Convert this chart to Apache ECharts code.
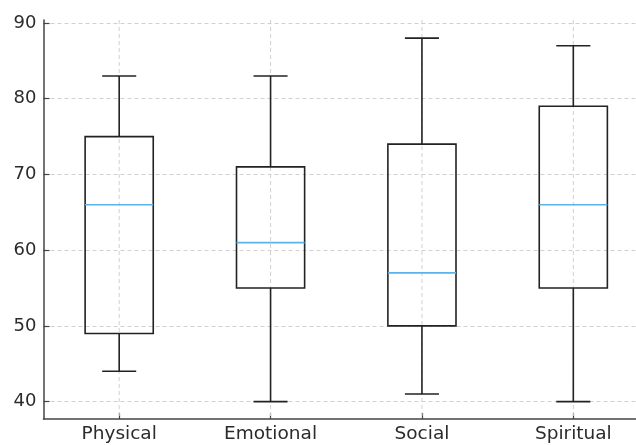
<!DOCTYPE html>
<html>
<head>
<meta charset="utf-8">
<script src="https://cdn.jsdelivr.net/npm/echarts@6/dist/echarts.min.js"></script>
<style>html,body{margin:0;padding:0;background:#fff;overflow:hidden;width:636px;height:445px;}#c{width:650px;height:445px;}</style>
</head>
<body>
<div id="c"></div>
<script>
var categories = ['Physical', 'Emotional', 'Social', 'Spiritual'];
var whiskerLow  = [44, 40, 41, 40];
var q1Values    = [49, 55, 50, 55];
var medians     = [66, 61, 57, 66];
var q3Values    = [75, 71, 74, 79];
var whiskerHigh = [83, 83, 88, 87];
var yTicks = [40, 50, 60, 70, 80, 90];

var data = categories.map(function (c, i) {
  return [i, whiskerLow[i], q1Values[i], medians[i], q3Values[i], whiskerHigh[i]];
});

var chart = echarts.init(document.getElementById('c'), null, {renderer: 'canvas'});
var font = 'DejaVu Sans';
chart.setOption({
  animation: false,
  backgroundColor: '#ffffff',
  grid: {left: 43.5, right: 1, top: 20, bottom: 26, containLabel: false},
  xAxis: {
    type: 'category',
    data: categories,
    boundaryGap: true,
    axisLine: {show: true, lineStyle: {color: '#444', width: 1.5}},
    axisTick: {show: true, inside: true, alignWithLabel: true, length: 6, lineStyle: {color: '#444', width: 1.2}},
    axisLabel: {color: '#2b2b2b', fontFamily: font, fontSize: 18.5, margin: 6},
    splitLine: {show: false}
  },
  yAxis: {
    type: 'value',
    min: 37.7,
    max: 90.4,
    axisLine: {show: true, lineStyle: {color: '#444', width: 1.5}},
    axisTick: {show: true, inside: true, length: 6, customValues: yTicks, lineStyle: {color: '#444', width: 1.2}},
    axisLabel: {color: '#2b2b2b', fontFamily: font, fontSize: 18, margin: 7, customValues: yTicks},
    splitLine: {show: true, lineStyle: {color: '#d0d0d0', type: [4, 3], width: 1}}
  },
  series: [{
    type: 'custom',
    data: data,
    renderItem: function (params, api) {
      var idx = api.value(0);
      var cs = params.coordSys;
      var bw = api.size([1, 0])[0] * 0.45;
      var pLow = api.coord([idx, api.value(1)]);
      var pQ1 = api.coord([idx, api.value(2)]);
      var pMed = api.coord([idx, api.value(3)]);
      var pQ3 = api.coord([idx, api.value(4)]);
      var pHigh = api.coord([idx, api.value(5)]);
      var x = pLow[0];
      var stroke = {stroke: '#222', lineWidth: 1.6, fill: null};
      return {
        type: 'group',
        children: [
          {type: 'line', shape: {x1: x, y1: cs.y, x2: x, y2: cs.y + cs.height},
            style: {stroke: '#d0d0d0', lineWidth: 1, lineDash: [4, 3]}},
          {type: 'line', shape: {x1: x, y1: pLow[1], x2: x, y2: pQ1[1]}, style: stroke},
          {type: 'line', shape: {x1: x, y1: pQ3[1], x2: x, y2: pHigh[1]}, style: stroke},
          {type: 'line', shape: {x1: x - bw / 4, y1: pLow[1], x2: x + bw / 4, y2: pLow[1]}, style: stroke},
          {type: 'line', shape: {x1: x - bw / 4, y1: pHigh[1], x2: x + bw / 4, y2: pHigh[1]}, style: stroke},
          {type: 'rect', shape: {x: x - bw / 2, y: pQ3[1], width: bw, height: pQ1[1] - pQ3[1]}, style: {stroke: '#222', lineWidth: 1.6, fill: 'none'}},
          {type: 'line', shape: {x1: x - bw / 2, y1: pMed[1], x2: x + bw / 2, y2: pMed[1]}, style: {stroke: '#5cb3ea', lineWidth: 1.6}}
        ]
      };
    }
  }]
});
</script>
</body>
</html>
